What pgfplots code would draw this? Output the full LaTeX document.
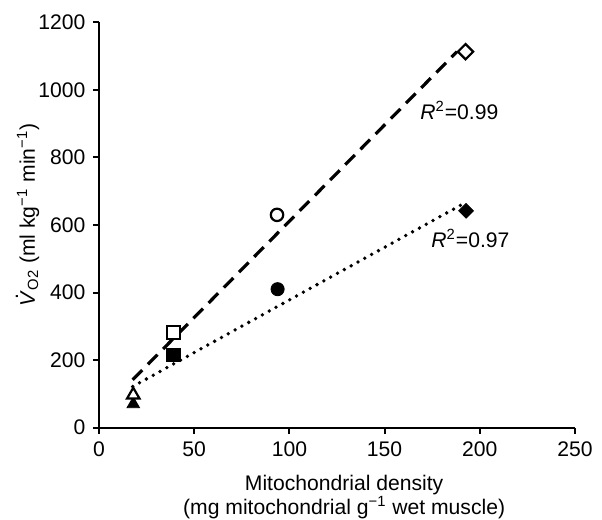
\documentclass[border=0pt]{standalone}
\usepackage{fontspec}
\setmainfont{Liberation Sans}
\usepackage{pgfplots}
\pgfplotsset{compat=1.18}
\newcommand{\Vdot}{\ooalign{\textit{V}\cr\hidewidth\raisebox{0.8em}{\kern0.12em.}\hidewidth\cr}}
\begin{document}
\begin{tikzpicture}
\useasboundingbox (-49.5bp,-46.15bp) rectangle (251.5bp,213.85bp);
\begin{axis}[
  scale only axis, width=238bp, height=202.7bp,
  xmin=0, xmax=250, ymin=0, ymax=1200,
  axis lines=left,
  x axis line style={-, line width=1bp},
  y axis line style={-, line width=1bp},
  xtick={0,50,...,250}, ytick={0,200,...,1200},
  tick align=outside, major tick length=3bp,
  tick style={line width=1bp, black},
  font=\fontsize{10.6}{12.5}\selectfont,
  tick label style={font=\fontsize{10.6}{12.5}\selectfont},
  /pgf/number format/assume math mode=true,
  /pgf/number format/1000 sep={},
  xticklabel style={yshift=-0.5bp},
  yticklabel style={xshift=-0.3bp},
  clip=false,
  every axis y label/.style={at={(axis description cs:-0.149,0.525)}, rotate=90, anchor=center, font=\fontsize{10.6}{12.5}\selectfont},
  every axis x label/.style={at={(axis description cs:0.515,-0.115)}, anchor=north, align=center, inner sep=0pt, font=\fontsize{10.6}{10.8}\selectfont},
  ylabel={\Vdot\textsubscript{O2} (ml kg\textsuperscript{−1} min\textsuperscript{−1})},
  xlabel={Mitochondrial density\\(mg mitochondrial g\textsuperscript{−1} wet muscle)},
]
% regression lines
\addplot[black, line width=1.6bp, dash pattern=on 6.8bp off 4bp] coordinates {(17.7,142) (188,1113)};
\addplot[black, line width=1.9bp, line cap=round, dash pattern=on 0bp off 3.9bp] coordinates {(17.7,121.8) (190.4,660)};
% filled markers
\addplot[only marks, mark=triangle*, mark size=3.6bp, mark options={fill=black, draw=black}] coordinates {(18,70)};
\addplot[only marks, mark=square*, mark size=3.4bp, mark options={fill=black, draw=black}] coordinates {(39,215)};
\addplot[only marks, mark=*, mark size=3.3bp, mark options={fill=black, draw=black}] coordinates {(93.8,410)};
\addplot[only marks, mark=square*, mark size=2.6bp, mark options={fill=black, draw=black, rotate=45}] coordinates {(192.8,642)};
% open markers
\addplot[only marks, mark=triangle*, mark size=3.6bp, mark options={fill=white, draw=black, line width=1.1bp}] coordinates {(18,97)};
\addplot[only marks, mark=square*, mark size=3.2bp, mark options={fill=white, draw=black, line width=1.1bp}] coordinates {(39,281)};
\addplot[only marks, mark=*, mark size=3.1bp, mark options={fill=white, draw=black, line width=1.1bp}] coordinates {(93.5,630)};
\addplot[only marks, mark=square*, mark size=2.7bp, mark options={fill=white, draw=black, line width=1.1bp, rotate=45}] coordinates {(192.5,1113)};
\node[anchor=west, inner sep=0pt] at (axis cs:168.6,940) {\textit{R}\textsuperscript{2}=0.99};
\node[anchor=west, inner sep=0pt] at (axis cs:174.4,560) {\textit{R}\textsuperscript{2}=0.97};
\end{axis}
\end{tikzpicture}
\end{document}
